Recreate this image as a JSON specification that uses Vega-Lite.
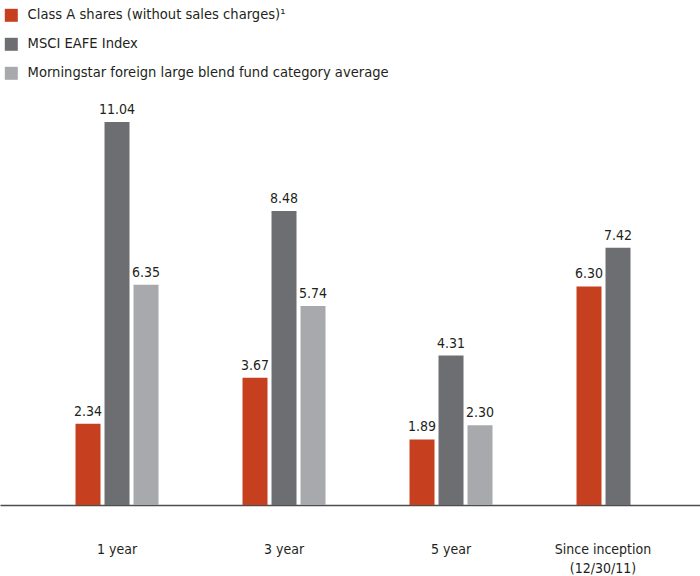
{
  "$schema": "https://vega.github.io/schema/vega-lite/v6.json",
  "width": 700,
  "height": 505,
  "padding": 0,
  "autosize": {"type": "pad"},
  "background": "white",
  "config": {
    "view": {"stroke": null},
    "font": "DejaVu Sans Condensed, sans-serif"
  },
  "data": {
    "values": [
      {"period": "1 year", "series": "Class A shares (without sales charges)¹", "value": 2.34},
      {"period": "1 year", "series": "MSCI EAFE Index", "value": 11.04},
      {"period": "1 year", "series": "Morningstar foreign large blend fund category average", "value": 6.35},
      {"period": "3 year", "series": "Class A shares (without sales charges)¹", "value": 3.67},
      {"period": "3 year", "series": "MSCI EAFE Index", "value": 8.48},
      {"period": "3 year", "series": "Morningstar foreign large blend fund category average", "value": 5.74},
      {"period": "5 year", "series": "Class A shares (without sales charges)¹", "value": 1.89},
      {"period": "5 year", "series": "MSCI EAFE Index", "value": 4.31},
      {"period": "5 year", "series": "Morningstar foreign large blend fund category average", "value": 2.30},
      {"period": "Since inception (12/30/11)", "series": "Class A shares (without sales charges)¹", "value": 6.30},
      {"period": "Since inception (12/30/11)", "series": "MSCI EAFE Index", "value": 7.42}
    ]
  },
  "encoding": {
    "x": {
      "field": "period",
      "type": "nominal",
      "sort": null,
      "scale": {"paddingInner": 0.503, "paddingOuter": 0.3473, "align": 0.651},
      "axis": {
        "title": null,
        "ticks": false,
        "labelAngle": 0,
        "domainColor": "#4d4d4f",
        "domainWidth": 1.5,
        "labelPadding": 37,
        "labelFontSize": 14,
        "labelColor": "#231f20",
        "labelBaseline": "top",
        "labelLineHeight": 19,
        "labelOffset": {"condition": {"test": "indexof(datum.label, 'Since') >= 0", "value": -15}, "value": 0},
        "labelExpr": "indexof(datum.label, 'Since') >= 0 ? ['Since inception', '(12/30/11)'] : datum.label"
      }
    },
    "xOffset": {
      "field": "series",
      "type": "nominal",
      "sort": null,
      "scale": {"paddingInner": 0.138, "paddingOuter": 0}
    },
    "y": {
      "field": "value",
      "type": "quantitative",
      "scale": {"domain": [0, 14.56], "nice": false, "zero": true},
      "axis": null
    }
  },
  "layer": [
    {
      "mark": {"type": "bar"},
      "encoding": {
        "color": {
          "field": "series",
          "type": "nominal",
          "sort": null,
          "scale": {
            "domain": ["Class A shares (without sales charges)¹", "MSCI EAFE Index", "Morningstar foreign large blend fund category average"],
            "range": ["#c63f1f", "#6d6e71", "#a7a9ac"]
          },
          "legend": {
            "title": null,
            "orient": "none",
            "legendX": 4,
            "legendY": 8,
            "padding": 0,
            "symbolType": "square",
            "symbolSize": 169,
            "symbolStrokeWidth": 0,
            "symbolOpacity": 1,
            "labelFontSize": 14.6,
            "labelColor": "#231f20",
            "labelOffset": 9,
            "rowPadding": 14,
            "labelLimit": 0
          }
        }
      }
    },
    {
      "mark": {"type": "text", "baseline": "bottom", "dy": -5, "fontSize": 14, "color": "#231f20"},
      "encoding": {
        "text": {"field": "value", "type": "quantitative", "format": ".2f"}
      }
    }
  ]
}
